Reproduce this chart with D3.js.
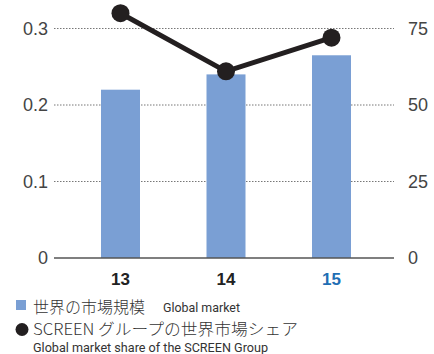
<!DOCTYPE html>
<html>
<head>
<meta charset="utf-8">
<script src="https://cdn.jsdelivr.net/npm/d3@7"></script>
<style>
  body { margin: 0; background: #fff; }
  svg { display: block; }
</style>
</head>
<body>
<div id="container"></div>
<script>
var years = ["13", "14", "15"];
var market = [0.22, 0.24, 0.265];
var share = [80, 61, 72];
var leftTicks = [0, 0.1, 0.2, 0.3];
var rightTicks = [0, 25, 50, 75];

var width = 434, height = 354;
var left = 54, right = 394, base = 258, top3 = 28.5;

var svg = d3.select("#container").append("svg")
    .attr("width", width)
    .attr("height", height);

var x = d3.scalePoint().domain(years).range([120.5, 331.5]);
var yL = d3.scaleLinear().domain([0, 0.3]).range([base, top3]);
var yR = d3.scaleLinear().domain([0, 75]).range([base, top3]);
var barW = 39;

// gridlines
svg.append("g").selectAll("line")
  .data(leftTicks.slice(1))
  .enter().append("line")
    .attr("x1", left).attr("x2", right)
    .attr("y1", function(d) { return yL(d); })
    .attr("y2", function(d) { return yL(d); })
    .attr("stroke", "#777")
    .attr("stroke-width", 1)
    .attr("stroke-dasharray", "1.5,1.5");

// bars
svg.append("g").selectAll("rect")
  .data(market)
  .enter().append("rect")
    .attr("x", function(d, i) { return x(years[i]) - barW / 2; })
    .attr("y", function(d) { return yL(d); })
    .attr("width", barW)
    .attr("height", function(d) { return base - yL(d); })
    .attr("fill", "#7a9fd4");

// baseline
svg.append("line")
  .attr("x1", left).attr("x2", right)
  .attr("y1", base).attr("y2", base)
  .attr("stroke", "#555").attr("stroke-width", 1.5);

var sans = "Helvetica, Arial, 'Liberation Sans', sans-serif";

// left axis
var axL = d3.axisLeft(yL).tickValues(leftTicks).tickSize(0).tickPadding(6)
  .tickFormat(function(d) { return d === 0 ? "0" : d3.format(".1f")(d); });
var gL = svg.append("g").attr("transform", "translate(" + left + ",0)").call(axL);
gL.select(".domain").remove();
gL.selectAll("text")
  .attr("font-family", sans)
  .attr("font-size", 18).attr("fill", "#444");

// right axis
var axR = d3.axisRight(yR).tickValues(rightTicks).tickSize(0).tickPadding(14);
var gR = svg.append("g").attr("transform", "translate(" + right + ",0)").call(axR);
gR.select(".domain").remove();
gR.selectAll("text")
  .attr("font-family", sans)
  .attr("font-size", 18).attr("fill", "#444");

// x labels
svg.append("g").selectAll("text")
  .data(years)
  .enter().append("text")
    .attr("x", function(d) { return x(d); })
    .attr("y", 285)
    .attr("text-anchor", "middle")
    .attr("font-family", sans)
    .attr("font-weight", "bold")
    .attr("font-size", 17)
    .attr("fill", function(d, i) { return i === years.length - 1 ? "#1f6eb4" : "#222"; })
    .text(function(d) { return d; });

// share line
var line = d3.line()
  .x(function(d, i) { return x(years[i]); })
  .y(function(d) { return yR(d); });

svg.append("path")
  .datum(share)
  .attr("d", line)
  .attr("fill", "none")
  .attr("stroke", "#231f20")
  .attr("stroke-width", 5);

svg.append("g").selectAll("circle")
  .data(share)
  .enter().append("circle")
    .attr("cx", function(d, i) { return x(years[i]); })
    .attr("cy", function(d) { return yR(d); })
    .attr("r", 9)
    .attr("fill", "#231f20");

// legend
var jp = "'Noto Sans CJK JP', sans-serif";
var narrow = "'Liberation Sans Narrow', 'Roboto', sans-serif";
var lg = svg.append("g");
lg.append("rect").attr("x", 16).attr("y", 300).attr("width", 10).attr("height", 10).attr("fill", "#7a9fd4");
lg.append("text").attr("x", 33).attr("y", 313)
  .attr("font-family", jp).attr("font-weight", 300).attr("font-size", 16).attr("fill", "#333")
  .attr("textLength", 112).attr("lengthAdjust", "spacingAndGlyphs")
  .text("世界の市場規模");
lg.append("text").attr("x", 163).attr("y", 312)
  .attr("font-family", narrow).attr("font-size", 13).attr("fill", "#333")
  .attr("textLength", 77).attr("lengthAdjust", "spacingAndGlyphs")
  .text("Global market");
lg.append("circle").attr("cx", 22).attr("cy", 329.5).attr("r", 6.5).attr("fill", "#231f20");
lg.append("text").attr("x", 33).attr("y", 335)
  .attr("font-family", jp).attr("font-weight", 300).attr("font-size", 15.5).attr("fill", "#333")
  .attr("textLength", 265).attr("lengthAdjust", "spacingAndGlyphs")
  .text("SCREEN グループの世界市場シェア");
lg.append("text").attr("x", 33).attr("y", 352)
  .attr("font-family", narrow).attr("font-size", 13).attr("fill", "#333")
  .attr("textLength", 235).attr("lengthAdjust", "spacingAndGlyphs")
  .text("Global market share of the SCREEN Group");
</script>
</body>
</html>
